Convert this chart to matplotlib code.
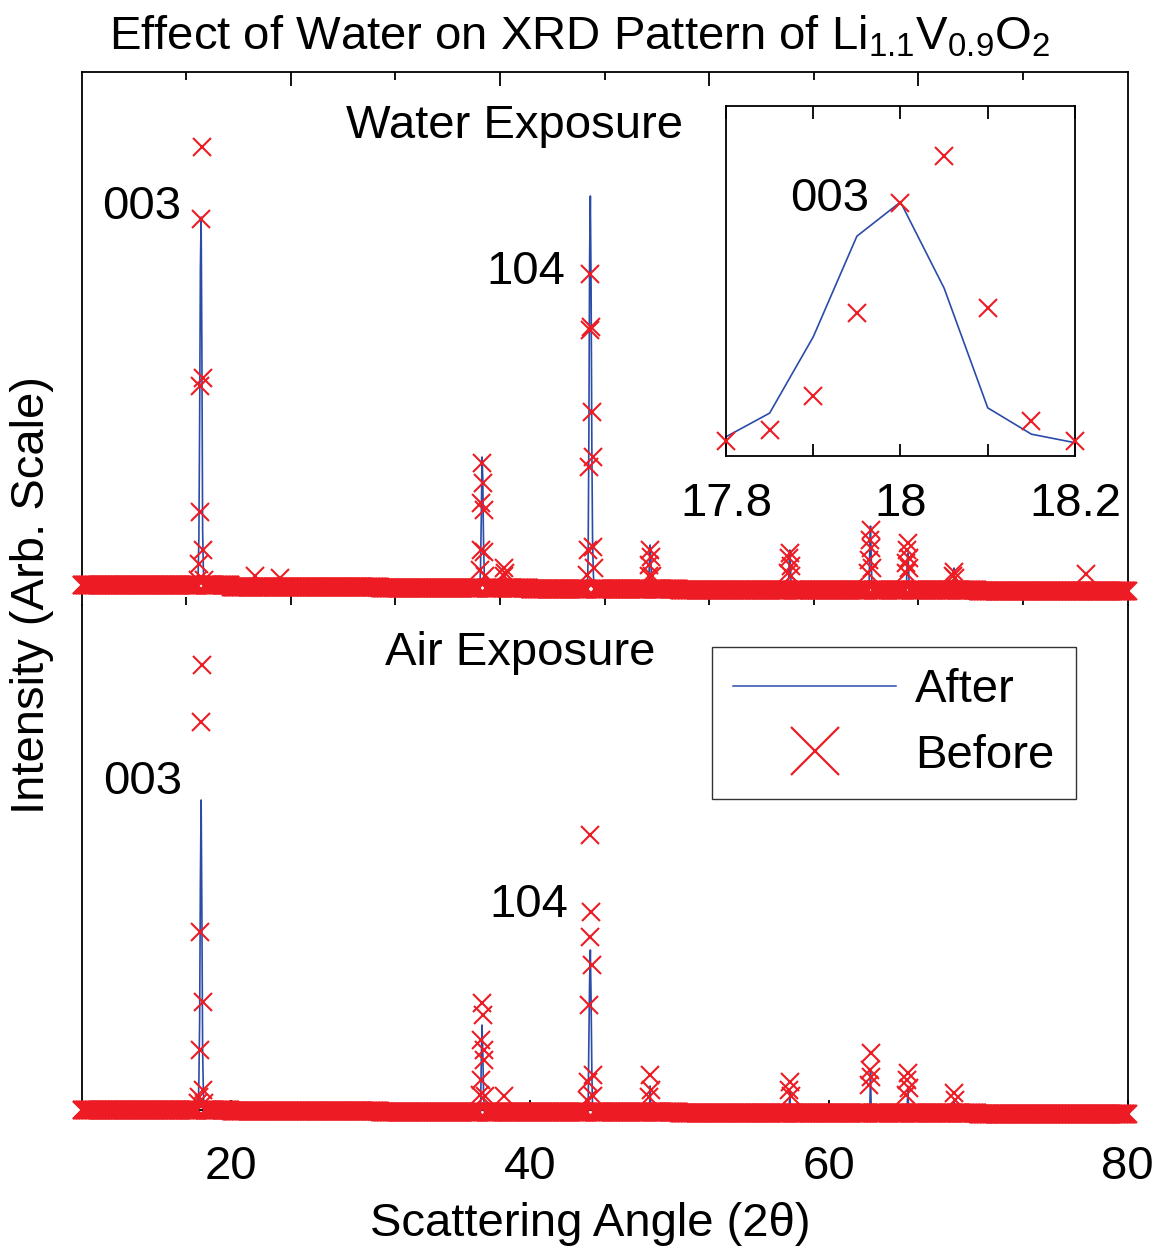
import numpy as np
import matplotlib
matplotlib.use("Agg")
import matplotlib.pyplot as plt
from matplotlib.lines import Line2D

plt.rcParams['font.family'] = ['Liberation Sans', 'DejaVu Sans']
plt.rcParams['mathtext.fontset'] = 'custom'
plt.rcParams['mathtext.rm'] = 'Liberation Sans'
plt.rcParams['mathtext.it'] = 'Liberation Sans:italic'

RED = '#ed1c24'
BLUE = '#2b4ba8'
FS = 34

# scan: 10-80 deg, 0.05 deg step
scan_start, scan_stop, scan_step = 10.0, 80.0, 0.05

# background level per 10-degree block (counts)
bg_blocks = [10, 20, 30, 40, 50, 60, 70]
water_bg = [30, 10, 0, -10, -20, -20, -30]
air_bg = [10, 0, -10, -10, -20, -20, -30]

# water exposure, before
water_before_2theta = [17.8, 17.85, 17.9, 17.95, 18.0, 18.05, 18.1, 18.15, 18.2,
                       21.6, 23.3,
                       36.65, 36.7, 36.75, 36.8, 36.85, 36.9, 36.95, 37.0,
                       38.25, 38.3, 38.35,
                       43.85, 43.9, 43.95, 44.0, 44.05, 44.1, 44.15, 44.2, 44.25, 44.3,
                       47.95, 48.0, 48.05, 48.1, 48.15,
                       57.3, 57.35, 57.4, 57.45, 57.5,
                       62.65, 62.7, 62.75, 62.8, 62.85, 62.9,
                       65.15, 65.2, 65.25, 65.3, 65.35, 65.4,
                       68.35, 68.4, 68.45, 77.2]
water_before_counts = [80, 240, 760, 2020, 3690, 4410, 2100, 380, 80,
                       120, 100,
                       180, 380, 850, 1250, 1050, 780, 360, 120,
                       120, 200, 150,
                       130, 380, 1210, 2580, 3140, 2610, 1760, 1310, 410, 200,
                       120, 230, 380, 310, 120,
                       150, 300, 350, 220, 120,
                       150, 280, 480, 580, 400, 200,
                       150, 250, 380, 450, 300, 200,
                       120, 160, 100, 140]

# water exposure, after
water_after_2theta = [17.75, 17.8, 17.85, 17.9, 17.95, 18.0, 18.05, 18.1, 18.15, 18.2,
                      36.7, 36.75, 36.8, 36.85, 36.9, 36.95,
                      43.9, 43.95, 44.0, 44.05, 44.1, 44.15, 44.2, 44.25,
                      48.0, 48.05, 48.1,
                      57.35, 57.4, 57.45,
                      62.75, 62.8, 62.85,
                      65.25, 65.3, 65.35,
                      68.4]
water_after_counts = [60, 140, 500, 1660, 3190, 3710, 2400, 580, 180, 50,
                      200, 700, 1310, 1100, 450, 150,
                      300, 1500, 3300, 3920, 3000, 1400, 450, 150,
                      250, 430, 300,
                      250, 380, 200,
                      400, 620, 300,
                      250, 350, 200,
                      200]

# air exposure, before
air_before_2theta = [17.8, 17.85, 17.9, 17.95, 18.0, 18.05, 18.1, 18.15, 18.2,
                     36.65, 36.7, 36.75, 36.8, 36.85, 36.9, 36.95, 37.0,
                     38.3,
                     43.85, 43.9, 43.95, 44.0, 44.05, 44.1, 44.15, 44.2, 44.25,
                     48.0, 48.05, 48.1,
                     57.35, 57.4, 57.45,
                     62.7, 62.75, 62.8, 62.85,
                     65.2, 65.25, 65.3, 65.35,
                     68.4, 68.45]
air_before_counts = [80, 140, 610, 1790, 3890, 4460, 1090, 210, 80,
                     160, 310, 710, 1080, 960, 610, 510, 150,
                     150,
                     110, 290, 1060, 1740, 2760, 1990, 1460, 360, 150,
                     140, 360, 210,
                     210, 290, 150,
                     260, 410, 580, 340,
                     160, 310, 380, 230,
                     180, 110]

# air exposure, after
air_after_2theta = [17.85, 17.9, 17.95, 18.0, 18.05, 18.1, 18.15,
                    36.75, 36.8, 36.85, 36.9,
                    43.95, 44.0, 44.05, 44.1, 44.15,
                    48.05, 57.4, 62.8, 65.3, 68.4]
air_after_counts = [300, 900, 2300, 3110, 2000, 600, 200,
                    500, 860, 600, 200,
                    700, 1300, 1610, 1100, 400,
                    250, 200, 400, 250, 120]


def build_pattern(background, peak_2theta, peak_counts):
    n = int(round((scan_stop - scan_start) / scan_step)) + 1
    two_theta = scan_start + scan_step * np.arange(n)
    block = np.searchsorted(bg_blocks, two_theta, side='right') - 1
    block = np.clip(block, 0, len(background) - 1)
    counts = np.asarray(background, dtype=float)[block]
    idx = np.round((np.asarray(peak_2theta) - scan_start) / scan_step).astype(int)
    counts[idx] = peak_counts
    return two_theta, counts


tt, w_before = build_pattern(water_bg, water_before_2theta, water_before_counts)
_, w_after = build_pattern(water_bg, water_after_2theta, water_after_counts)
_, a_before = build_pattern(air_bg, air_before_2theta, air_before_counts)
_, a_after = build_pattern(air_bg, air_after_2theta, air_after_counts)

W, H = 1158, 1249
fig = plt.figure(figsize=(W / 100, H / 100), dpi=100)

left, right = 81.6, 1127.5
ax_top = fig.add_axes([left / W, 1 - 605 / H, (right - left) / W, 533 / H])
ax_bot = fig.add_axes([left / W, 1 - 1110 / H, (right - left) / W, 505 / H])

marker_kw = dict(ls='none', marker='x', color=RED, ms=12.5, mew=1.5, clip_on=False, zorder=3)
line_kw = dict(color=BLUE, lw=1.2, clip_on=False, zorder=2)

ax_top.plot(tt, w_after, **line_kw)
ax_top.plot(tt, w_before, **marker_kw)
ax_bot.plot(tt, a_after, **line_kw)
ax_bot.plot(tt, a_before, **marker_kw)

for ax in (ax_top, ax_bot):
    ax.set_xlim(10, 80)
    ax.set_yticks([])
    for s in ax.spines.values():
        s.set_linewidth(1.3)

ax_top.set_ylim(-170, 5160)
ax_top.spines['bottom'].set_visible(False)
ax_top.set_xticks([24, 38, 52, 66])
ax_top.set_xticks([17, 31, 45, 59, 73], minor=True)
ax_top.tick_params(axis='x', which='both', direction='in', top=True, bottom=True,
                   labelbottom=False, width=1.3)
ax_top.tick_params(axis='x', which='major', length=10)
ax_top.tick_params(axis='x', which='minor', length=6)

ax_bot.set_ylim(10, 5060)
ax_bot.spines['top'].set_visible(False)
ax_bot.set_xticks([20, 40, 60, 80])
ax_bot.tick_params(axis='x', direction='in', length=7, width=1.3, top=False,
                   labelsize=FS, pad=25)

ax_top.text(39.0, 4620, 'Water Exposure', fontsize=FS, ha='center', va='center')
ax_bot.text(39.35, 4580, 'Air Exposure', fontsize=FS, ha='center', va='center')
ax_top.text(14.0, 3810, '003', fontsize=FS, ha='center', va='center')
ax_top.text(39.75, 3160, '104', fontsize=FS, ha='center', va='center')
ax_bot.text(14.1, 3290, '003', fontsize=FS, ha='center', va='center')
ax_bot.text(39.9, 2060, '104', fontsize=FS, ha='center', va='center')

# zoom on the 003 reflection of the water-exposed sample
ins = fig.add_axes([726 / W, 1 - 456 / H, 349 / W, 350 / H])
sel = (tt >= 17.79) & (tt <= 18.21)
ins.plot(tt[sel], w_after[sel], **line_kw)
ins.plot(tt[sel], w_before[sel], **marker_kw)
ins.set_xlim(17.8, 18.2)
ins.set_ylim(-152, 5170)
ins.set_yticks([])
ins.set_xticks([17.8, 18.0, 18.2])
ins.set_xticklabels(['17.8', '18', '18.2'])
ins.set_xticks([17.9, 18.1], minor=True)
ins.tick_params(axis='x', which='both', direction='in', top=True, length=9,
                width=1.3, labelsize=FS, pad=19)
for s in ins.spines.values():
    s.set_linewidth(1.3)
ins.text(17.919, 3760, '003', fontsize=FS, ha='center', va='center')

handles = [Line2D([], [], color=BLUE, lw=1.1),
           Line2D([], [], ls='none', marker='x', color=RED, ms=34, mew=1.6)]
leg = fig.legend(handles, ['After', 'Before'], loc='upper left',
                 bbox_to_anchor=(712 / W, 1 - 647 / H), fontsize=FS,
                 frameon=True, fancybox=False, borderaxespad=0, borderpad=0.45,
                 handlelength=3.45, handletextpad=0.4, labelspacing=0.45)
leg.get_frame().set_edgecolor('black')
leg.get_frame().set_linewidth(1.0)

fig.text(580 / W, 1 - 37 / H,
         r'Effect of Water on XRD Pattern of Li$_{1.1}$V$_{0.9}$O$_2$',
         fontsize=FS, ha='center', va='center')
fig.text(590 / W, 1 - 1224 / H, 'Scattering Angle (2θ)', fontsize=FS,
         ha='center', va='center')
fig.text(32 / W, 1 - 595 / H, 'Intensity (Arb. Scale)', fontsize=FS,
         ha='center', va='center', rotation=90)

fig.savefig('out.png', dpi=100)
